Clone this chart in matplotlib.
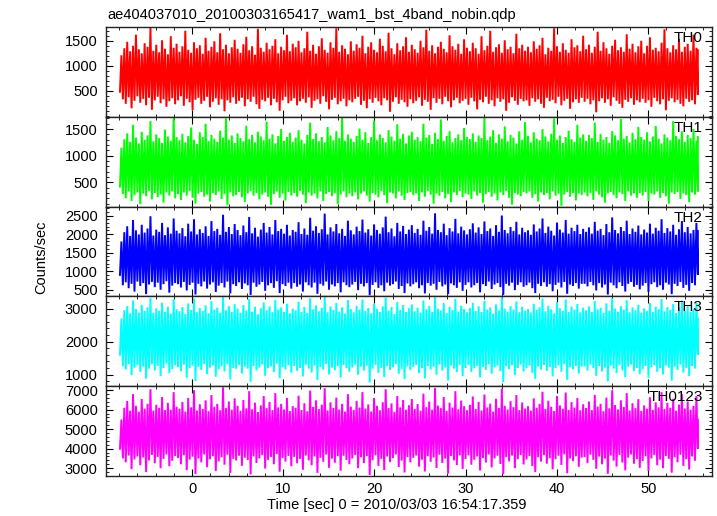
import numpy as np
import matplotlib
matplotlib.use("Agg")
import matplotlib.pyplot as plt
from matplotlib.ticker import MultipleLocator, FixedLocator

plt.rcParams['font.family'] = ['Liberation Sans', 'DejaVu Sans']

title = "ae404037010_20100303165417_wam1_bst_4band_nobin.qdp"
xlabel = "Time [sec] 0 = 2010/03/03 16:54:17.359"
ylabel = "Counts/sec"
band_names = ["TH0", "TH1", "TH2", "TH3", "TH0123"]
band_colors = ["#ff0000", "#00ff00", "#0000ff", "#00ffff", "#ff00ff"]

# time span of the light curve (s)
t_first = -7.9
t_last = 55.45

# per time-slice envelope of the trace (lowest / highest counts/sec seen in each slice)
th0_high = [
    1210, 1350, 1480, 1290, 1400, 1620, 1330, 1250, 1450, 1380, 1760, 1300, 1420, 1270, 1510, 1340, 1230, 1590, 1360, 1440,
    1280, 1390, 1700, 1320, 1260, 1470, 1350, 1410, 1240, 1560, 1300, 1380, 1490, 1270, 1650, 1330, 1420, 1250, 1370, 1520,
    1340, 1260, 1430, 1580, 1310, 1390, 1220, 1740, 1360, 1280, 1460, 1330, 1400, 1530, 1250, 1380, 1310, 1620, 1290, 1440,
    1370, 1500, 1270, 1350, 1680, 1300, 1420, 1240, 1390, 1550, 1320, 1260, 1470, 1360, 1750, 1280, 1410, 1340, 1230, 1490,
    1300, 1430, 1360, 1600, 1250, 1380, 1470, 1320, 1270, 1540, 1400, 1290, 1660, 1350, 1230, 1450, 1310, 1390, 1570, 1280,
    1420, 1330, 1260, 1500, 1370, 1720, 1300, 1410, 1250, 1380, 1480, 1340, 1270, 1610, 1390, 1320, 1440, 1240, 1530, 1360,
    1290, 1460, 1350, 1240, 1590, 1310, 1400, 1700, 1280, 1370, 1430, 1260, 1510, 1330, 1380, 1250, 1640, 1350, 1420, 1300,
    1380, 1270, 1490, 1340, 1410, 1560, 1230, 1360, 1300, 1750, 1390, 1280, 1450, 1320, 1260, 1530, 1370, 1410, 1290, 1600,
    1330, 1420, 1260, 1380, 1680, 1300, 1470, 1350, 1240, 1400, 1520, 1310, 1370, 1280, 1630, 1340, 1440, 1270, 1390, 1500,
    1250, 1400, 1570, 1320, 1360, 1290, 1460, 1730, 1350, 1270, 1410, 1330, 1540, 1280, 1380, 1440, 1300, 1620, 1360, 1310,
]
th0_low = [
    480, 330, 240, 370, 150, 300, 390, 260, 340, 210, 360, 120, 310, 380, 250, 330, 180, 290, 350, 230,
    310, 390, 200, 340, 270, 110, 320, 360, 240, 300, 380, 170, 280, 350, 220, 330, 90, 310, 260, 370,
    240, 300, 360, 190, 330, 280, 380, 230, 140, 320, 290, 360, 210, 340, 270, 100, 310, 380, 250, 300,
    350, 210, 290, 340, 260, 370, 160, 300, 330, 240, 390, 280, 130, 320, 360, 230, 290, 340, 190, 310,
    270, 340, 380, 220, 300, 150, 330, 260, 360, 290, 210, 350, 310, 80, 280, 370, 240, 320, 270, 180,
    330, 250, 300, 370, 200, 320, 280, 120, 350, 260, 340, 230, 380, 290, 170, 310, 360, 250, 300, 340,
    220, 360, 290, 130, 320, 270, 380, 240, 310, 190, 350, 280, 330, 100, 260, 370, 300, 220, 340, 290,
    310, 200, 350, 280, 330, 240, 160, 360, 290, 320, 250, 380, 210, 300, 340, 140, 270, 330, 260, 360,
    280, 340, 230, 310, 70, 290, 350, 260, 330, 200, 370, 300, 240, 160, 320, 280, 350, 220, 310, 270,
    340, 260, 310, 180, 360, 290, 230, 330, 110, 300, 350, 270, 320, 240, 190, 340, 280, 310, 230, 420,
]

th1_high = [
    1150, 1310, 1420, 1260, 1580, 1340, 1230, 1450, 1300, 1380, 1650, 1270, 1400, 1330, 1240, 1490, 1360, 1280, 1710, 1350,
    1290, 1410, 1250, 1370, 1530, 1300, 1220, 1440, 1350, 1600, 1280, 1390, 1320, 1260, 1470, 1340, 1700, 1300, 1380, 1240,
    1420, 1330, 1270, 1560, 1310, 1390, 1250, 1450, 1360, 1290, 1640, 1320, 1400, 1230, 1370, 1500, 1280, 1350, 1430, 1260,
    1340, 1480, 1300, 1230, 1390, 1620, 1310, 1420, 1270, 1350, 1250, 1540, 1380, 1290, 1460, 1330, 1720, 1280, 1400, 1320,
    1260, 1370, 1510, 1300, 1440, 1240, 1350, 1660, 1290, 1400, 1330, 1250, 1480, 1360, 1280, 1590, 1320, 1410, 1230, 1380,
    1450, 1300, 1350, 1270, 1600, 1340, 1390, 1220, 1430, 1310, 1680, 1280, 1370, 1460, 1250, 1330, 1400, 1290, 1520, 1350,
    1310, 1420, 1260, 1380, 1330, 1710, 1290, 1360, 1480, 1240, 1400, 1320, 1550, 1270, 1390, 1340, 1230, 1460, 1300, 1630,
    1370, 1250, 1440, 1320, 1290, 1500, 1360, 1270, 1410, 1700, 1300, 1380, 1240, 1350, 1470, 1310, 1260, 1580, 1340, 1400,
    1280, 1390, 1330, 1620, 1260, 1410, 1300, 1350, 1240, 1460, 1380, 1290, 1690, 1320, 1370, 1250, 1430, 1310, 1540, 1350,
    1300, 1440, 1270, 1360, 1560, 1320, 1230, 1400, 1340, 1290, 1650, 1370, 1310, 1460, 1260, 1390, 1330, 1500, 1280, 1350,
]
th1_low = [
    420, 280, 200, 330, 150, 260, 310, 90, 290, 240, 340, 180, 300, 220, 270, 120, 310, 250, 330, 200,
    280, 170, 310, 250, 340, 210, 100, 290, 320, 230, 270, 140, 300, 260, 330, 190, 280, 70, 310, 240,
    260, 320, 220, 130, 290, 340, 250, 300, 180, 270, 310, 230, 80, 280, 330, 210, 290, 160, 320, 250,
    300, 230, 340, 270, 110, 310, 250, 290, 200, 330, 150, 280, 320, 240, 300, 90, 270, 330, 220, 290,
    240, 310, 180, 290, 330, 250, 140, 300, 270, 220, 340, 260, 110, 310, 290, 200, 330, 250, 170, 300,
    320, 260, 290, 150, 310, 230, 340, 270, 100, 290, 250, 320, 200, 280, 130, 310, 260, 340, 220, 290,
    270, 190, 330, 250, 300, 120, 280, 320, 230, 290, 160, 310, 260, 340, 210, 80, 300, 270, 240, 320,
    290, 330, 210, 280, 140, 310, 260, 300, 180, 330, 250, 290, 60, 270, 320, 230, 300, 160, 290, 260,
    310, 240, 300, 170, 330, 270, 220, 120, 290, 320, 260, 200, 310, 280, 150, 330, 250, 290, 210, 300,
    250, 320, 150, 290, 270, 330, 210, 300, 240, 100, 310, 280, 320, 190, 290, 260, 130, 310, 270, 330,
]

th2_high = [
    1800, 2050, 2210, 1950, 2380, 2100, 1990, 2250, 2040, 2150, 2480, 1960, 2120, 2060, 2300, 1970, 2180, 2010, 2420, 2090,
    2020, 2160, 1940, 2280, 2070, 2400, 1990, 2130, 2030, 2210, 1950, 2350, 2080, 2140, 1980, 2520, 2060, 2190, 2000, 2270,
    2110, 1970, 2230, 2050, 2460, 2020, 2170, 1930, 2120, 2300, 2040, 2190, 1990, 2380, 2080, 2140, 2010, 2250, 1960, 2110,
    2060, 2320, 2000, 2150, 1980, 2440, 2090, 2210, 2030, 2130, 2550, 1990, 2180, 2070, 2270, 2020, 2140, 1950, 2360, 2100,
    1990, 2200, 2080, 2390, 2040, 2130, 1960, 2260, 2110, 2010, 2180, 2470, 2050, 2150, 1940, 2300, 2070, 2220, 2000, 2120,
    2240, 2030, 2140, 1980, 2360, 2090, 2190, 2010, 2560, 2110, 2050, 2280, 1970, 2160, 2070, 2410, 2020, 2200, 2100, 1990,
    2130, 2290, 2040, 2180, 2000, 2340, 2080, 2150, 1950, 2240, 2060, 2500, 2110, 2020, 2190, 2080, 2330, 1990, 2170, 2050,
    2100, 1980, 2260, 2070, 2150, 2420, 2030, 2200, 2090, 1960, 2310, 2120, 2040, 2380, 2010, 2170, 2080, 2250, 2000, 2140,
    2060, 2180, 2010, 2330, 2090, 2140, 1970, 2270, 2050, 2450, 2110, 2020, 2190, 2080, 2360, 2000, 2150, 2060, 2230, 1990,
    2120, 2040, 2280, 2010, 2170, 2090, 2400, 2030, 2160, 2070, 2250, 1980, 2130, 2350, 2050, 2190, 2020, 2110, 2300, 2080,
]
th2_low = [
    900, 620, 700, 540, 660, 450, 720, 600, 680, 380, 640, 710, 570, 690, 500, 650, 730, 420, 610, 680,
    650, 560, 710, 480, 630, 690, 370, 660, 590, 720, 530, 640, 700, 440, 610, 680, 560, 720, 400, 650,
    600, 700, 520, 670, 620, 360, 690, 580, 640, 710, 470, 620, 680, 550, 730, 410, 650, 600, 690, 530,
    680, 580, 640, 450, 700, 620, 560, 690, 390, 660, 610, 720, 500, 640, 590, 680, 430, 700, 620, 570,
    640, 710, 490, 660, 590, 680, 350, 630, 700, 550, 620, 460, 690, 610, 650, 720, 520, 600, 410, 670,
    590, 650, 700, 540, 620, 400, 680, 610, 660, 500, 710, 590, 640, 380, 670, 620, 550, 700, 470, 630,
    700, 560, 620, 680, 430, 650, 600, 720, 520, 640, 680, 570, 360, 660, 610, 690, 490, 630, 700, 580,
    620, 690, 540, 410, 660, 600, 700, 580, 650, 460, 630, 690, 560, 710, 390, 640, 600, 680, 530, 660,
    660, 590, 710, 620, 480, 680, 560, 640, 370, 690, 620, 540, 700, 600, 450, 660, 710, 580, 630, 510,
    610, 680, 440, 650, 700, 570, 620, 500, 690, 640, 380, 660, 600, 710, 550, 630, 470, 680, 620, 900,
]

th3_high = [
    2700, 2950, 3080, 2860, 3250, 2990, 2880, 3120, 2930, 3040, 3330, 2870, 3010, 2940, 3180, 2900, 3060, 2850, 3290, 2980,
    2920, 3050, 2840, 3160, 2960, 3310, 2890, 3020, 2930, 3100, 2860, 3230, 2970, 3030, 2880, 3350, 2950, 3080, 2900, 3140,
    3000, 2870, 3110, 2940, 3300, 2910, 3060, 2830, 3010, 3190, 2950, 3070, 2890, 3270, 2980, 3040, 2900, 3150, 2860, 3000,
    2950, 3210, 2900, 3050, 2870, 3320, 2980, 3100, 2920, 3030, 3360, 2890, 3070, 2960, 3170, 2910, 3040, 2850, 3260, 2990,
    2890, 3090, 2970, 3280, 2930, 3020, 2860, 3150, 3000, 2900, 3070, 3340, 2940, 3050, 2840, 3200, 2960, 3110, 2900, 3010,
    3130, 2920, 3030, 2880, 3250, 2980, 3080, 2900, 3350, 3000, 2940, 3170, 2870, 3060, 2960, 3300, 2910, 3090, 2990, 2890,
    3020, 3180, 2930, 3070, 2900, 3240, 2970, 3040, 2850, 3130, 2950, 3340, 3000, 2910, 3080, 2970, 3220, 2890, 3060, 2940,
    2990, 2880, 3150, 2960, 3040, 3310, 2920, 3090, 2980, 2860, 3200, 3010, 2930, 3280, 2900, 3060, 2970, 3140, 2890, 3030,
    2950, 3070, 2900, 3230, 2980, 3030, 2870, 3160, 2940, 3320, 3000, 2910, 3080, 2970, 3260, 2890, 3040, 2950, 3120, 2880,
    3010, 2930, 3170, 2900, 3060, 2980, 3290, 2920, 3050, 2960, 3140, 2870, 3020, 3250, 2940, 3080, 2910, 3000, 3190, 2700,
]
th3_low = [
    1600, 1250, 1150, 1320, 980, 1210, 1290, 1080, 1240, 870, 1180, 1310, 1120, 1260, 950, 1200, 1330, 1040, 1170, 1280,
    1220, 1100, 1300, 900, 1190, 1270, 800, 1230, 1140, 1320, 1010, 1210, 1280, 930, 1160, 1250, 1090, 1310, 850, 1200,
    1170, 1290, 1030, 1240, 1180, 780, 1260, 1120, 1210, 1300, 960, 1190, 1250, 1070, 1330, 890, 1220, 1150, 1280, 1050,
    1260, 1110, 1200, 940, 1290, 1180, 1060, 1270, 830, 1230, 1150, 1320, 1000, 1210, 1130, 1260, 910, 1290, 1190, 1080,
    1210, 1300, 990, 1240, 1120, 1270, 760, 1180, 1290, 1050, 1200, 920, 1260, 1140, 1220, 1310, 1020, 1170, 860, 1250,
    1130, 1230, 1290, 1040, 1190, 880, 1260, 1150, 1240, 990, 1300, 1120, 1210, 820, 1270, 1180, 1070, 1290, 950, 1200,
    1290, 1080, 1190, 1260, 910, 1230, 1140, 1310, 1020, 1220, 1270, 1100, 770, 1250, 1160, 1280, 980, 1200, 1300, 1090,
    1190, 1270, 1050, 870, 1240, 1150, 1290, 1110, 1230, 940, 1200, 1280, 1080, 1310, 840, 1220, 1160, 1260, 1030, 1240,
    1250, 1120, 1300, 1190, 960, 1260, 1090, 1210, 790, 1270, 1180, 1040, 1290, 1130, 920, 1240, 1300, 1100, 1200, 1010,
    1160, 1260, 900, 1220, 1290, 1080, 1190, 1000, 1270, 1210, 810, 1240, 1140, 1300, 1060, 1200, 950, 1260, 1180, 1600,
]

th0123_high = [
    5500, 6100, 6450, 5950, 6800, 6200, 5900, 6550, 6050, 6300, 7050, 5950, 6250, 6100, 6650, 5980, 6350, 6000, 6900, 6150,
    6050, 6400, 5900, 6600, 6120, 7000, 5960, 6280, 6040, 6480, 5920, 6750, 6150, 6300, 5970, 7150, 6080, 6420, 6000, 6580,
    6200, 5940, 6500, 6070, 6950, 6020, 6360, 5880, 6220, 6700, 6080, 6400, 5980, 6850, 6120, 6300, 6010, 6600, 5930, 6180,
    6100, 6720, 5980, 6330, 5920, 6980, 6140, 6480, 6030, 6260, 7100, 5960, 6380, 6090, 6620, 6010, 6300, 5900, 6800, 6160,
    5990, 6450, 6110, 6900, 6060, 6270, 5910, 6600, 6200, 5970, 6380, 7050, 6080, 6320, 5890, 6700, 6120, 6500, 6000, 6230,
    6550, 6040, 6290, 5950, 6820, 6130, 6420, 6000, 7120, 6210, 6080, 6650, 5940, 6360, 6110, 6950, 6020, 6470, 6180, 5970,
    6250, 6680, 6030, 6400, 5960, 6780, 6120, 6310, 5900, 6560, 6090, 7080, 6200, 6010, 6440, 6130, 6750, 5980, 6370, 6060,
    6180, 5950, 6580, 6100, 6300, 6920, 6040, 6460, 6150, 5930, 6700, 6220, 6050, 6880, 5990, 6390, 6110, 6600, 5970, 6280,
    6090, 6420, 5980, 6760, 6160, 6300, 5920, 6620, 6070, 7000, 6240, 6010, 6480, 6140, 6850, 5960, 6330, 6080, 6540, 5940,
    6220, 6050, 6640, 5990, 6380, 6120, 6900, 6030, 6350, 6100, 6560, 5950, 6260, 6800, 6060, 6420, 6000, 6200, 6700, 5500,
]
th0123_low = [
    4000, 3500, 3300, 3650, 2950, 3450, 3600, 3150, 3550, 2800, 3400, 3680, 3250, 3580, 3000, 3480, 3700, 3100, 3380, 3620,
    3520, 3200, 3660, 2900, 3440, 3590, 2700, 3500, 3300, 3700, 3050, 3460, 3610, 2850, 3350, 3560, 3180, 3690, 2750, 3480,
    3400, 3640, 3120, 3540, 3420, 2680, 3600, 3270, 3500, 3670, 2980, 3430, 3580, 3200, 3720, 2820, 3520, 3340, 3630, 3100,
    3580, 3250, 3480, 2920, 3650, 3400, 3150, 3600, 2760, 3530, 3330, 3700, 3020, 3490, 3280, 3610, 2870, 3640, 3420, 3200,
    3500, 3680, 3000, 3560, 3260, 3620, 2650, 3410, 3660, 3120, 3480, 2900, 3600, 3310, 3520, 3700, 3060, 3390, 2780, 3570,
    3300, 3530, 3650, 3080, 3440, 2830, 3610, 3330, 3550, 3010, 3690, 3270, 3490, 2720, 3630, 3400, 3160, 3660, 2960, 3470,
    3660, 3180, 3430, 3600, 2880, 3520, 3290, 3700, 3040, 3500, 3640, 3220, 2690, 3570, 3350, 3650, 3000, 3460, 3680, 3190,
    3450, 3620, 3110, 2800, 3560, 3340, 3670, 3230, 3510, 2940, 3460, 3640, 3170, 3710, 2740, 3500, 3360, 3610, 3070, 3540,
    3570, 3260, 3690, 3430, 2970, 3600, 3200, 3490, 2710, 3650, 3390, 3080, 3680, 3290, 2890, 3540, 3700, 3230, 3470, 3020,
    3370, 3610, 2860, 3500, 3670, 3150, 3440, 3000, 3630, 3480, 2770, 3560, 3300, 3690, 3120, 3460, 2930, 3600, 3380, 4000,
]

series_low = [th0_low, th1_low, th2_low, th3_low, th0123_low]
series_high = [th0_high, th1_high, th2_high, th3_high, th0123_high]
ylims = [(-20, 1775), (45, 1730), (320, 2740), (645, 3373), (2600, 7205)]
major_ticks = [[500, 1000, 1500], [500, 1000, 1500], [500, 1000, 1500, 2000, 2500],
               [1000, 2000, 3000], [3000, 4000, 5000, 6000, 7000]]
minor_steps = [100, 100, 100, 200, 200]

fig = plt.figure(figsize=(7.17, 5.16), dpi=100)
left, right = 106 / 717, 712 / 717
top_px, bot_px = 27, 476
ph = (bot_px - top_px) / 5

for i in range(5):
    y0 = 1 - (top_px + (i + 1) * ph) / 516
    ax = fig.add_axes([left, y0, right - left, ph / 516])
    lo = np.asarray(series_low[i], dtype=float)
    hi = np.asarray(series_high[i], dtype=float)
    n = len(lo)
    t = np.linspace(t_first, t_last, n)
    dt = (t_last - t_first) / (n - 1)
    # trace: within each slice the curve swings from its lowest to its highest value
    tx = np.column_stack([t, np.minimum(t + dt / 2, t_last)]).ravel()
    vy = np.column_stack([lo, hi]).ravel()
    ax.plot(tx, vy, color=band_colors[i], lw=1.4, solid_joinstyle='miter')
    ax.set_xlim(-9.43, 57.0)
    ax.set_ylim(*ylims[i])
    ax.yaxis.set_major_locator(FixedLocator(major_ticks[i]))
    ax.yaxis.set_minor_locator(MultipleLocator(minor_steps[i]))
    ax.xaxis.set_major_locator(MultipleLocator(10))
    ax.xaxis.set_minor_locator(MultipleLocator(2))
    ax.tick_params(which='both', direction='in', top=True, right=True,
                   labelsize=10.5, colors='black')
    ax.tick_params(which='major', length=5, width=0.8)
    ax.tick_params(which='minor', length=2.5, width=0.6)
    ax.tick_params(axis='y', pad=6)
    ax.tick_params(axis='x', pad=4)
    for s in ax.spines.values():
        s.set_linewidth(1.0)
        s.set_color('#222222')
    if i < 4:
        ax.tick_params(labelbottom=False)
    ax.text(0.985, 0.878, band_names[i], transform=ax.transAxes,
            ha='right', va='center', fontsize=11)

fig.text(107 / 717, 1 - 15 / 516, title, ha='left', va='center', fontsize=10.5)
fig.text(397 / 717, 1 - 505 / 516, xlabel, ha='center', va='center', fontsize=10.5)
fig.text(41 / 717, 1 - 257 / 516, ylabel, ha='center', va='center', rotation=90, fontsize=10.5)

fig.savefig("out.png", dpi=100)
